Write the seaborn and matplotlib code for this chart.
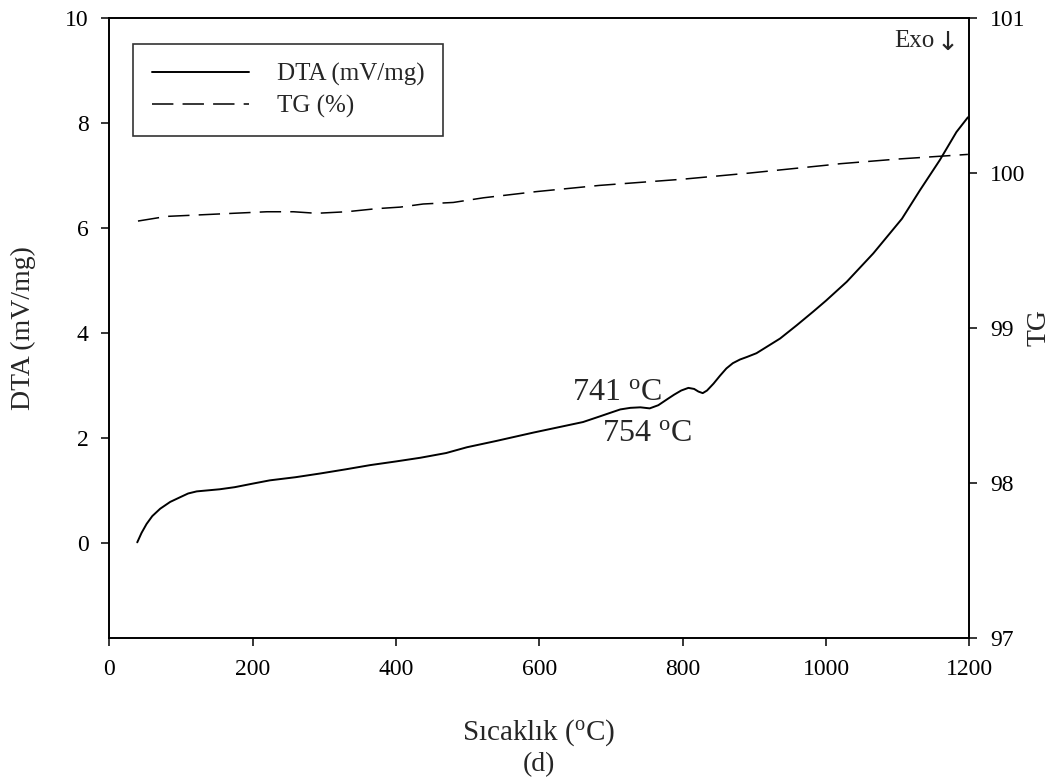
import matplotlib
matplotlib.use("Agg")
import matplotlib.pyplot as plt
import seaborn as sns

# DTA signal (mV/mg) versus temperature (°C)
dta_temp = [39, 45, 52, 60, 71, 85, 99, 110, 122, 138, 154, 175, 201, 224, 260,
            294, 330, 364, 400, 434, 470, 499, 540, 592, 630, 661, 685, 700, 713,
            727, 741, 754, 766, 778, 788, 798, 808, 816, 822, 828, 834, 843, 852,
            861, 870, 880, 890, 903, 936, 959, 982, 1000, 1029, 1066, 1106, 1131,
            1159, 1182, 1198]
dta_vals = [0.02, 0.20, 0.37, 0.52, 0.66, 0.79, 0.88, 0.95, 0.99, 1.01, 1.03, 1.07,
            1.14, 1.20, 1.26, 1.33, 1.41, 1.49, 1.56, 1.63, 1.72, 1.83, 1.95, 2.11,
            2.22, 2.31, 2.42, 2.49, 2.55, 2.58, 2.59, 2.57, 2.63, 2.74, 2.83, 2.91,
            2.96, 2.94, 2.89, 2.86, 2.91, 3.04, 3.19, 3.33, 3.43, 3.50, 3.55, 3.62,
            3.90, 4.15, 4.41, 4.62, 4.98, 5.52, 6.18, 6.72, 7.30, 7.83, 8.11]

# TG mass (%) versus temperature (°C)
tg_temp = [40, 80, 127, 173, 220, 257, 289, 331, 373, 406, 438, 480, 522, 559,
           596, 684, 800, 894, 1000, 1020, 1100, 1198]
tg_vals = [99.69, 99.72, 99.73, 99.74, 99.75, 99.75, 99.74, 99.75, 99.77, 99.78,
           99.80, 99.81, 99.84, 99.86, 99.88, 99.92, 99.96, 100.00, 100.05, 100.06,
           100.09, 100.12]

series_labels = ["DTA (mV/mg)", "TG (%)"]
x_ticks = [0, 200, 400, 600, 800, 1000, 1200]
dta_ticks = [0, 2, 4, 6, 8, 10]
tg_ticks = [97, 98, 99, 100, 101]

sns.set_theme(style="ticks")
plt.rcParams["font.family"] = ["Liberation Serif", "DejaVu Serif"]
plt.rcParams["mathtext.fontset"] = "custom"
plt.rcParams["mathtext.rm"] = "Liberation Serif"
plt.rcParams["mathtext.it"] = "Liberation Serif:italic"
plt.rcParams["axes.edgecolor"] = "black"
plt.rcParams["axes.linewidth"] = 1.2
plt.rcParams["xtick.color"] = "black"
plt.rcParams["ytick.color"] = "black"

fig = plt.figure(figsize=(10.55, 7.8), dpi=100)
ax = fig.add_axes([0.1036, 0.1821, 0.8152, 0.7948])
ax2 = ax.twinx()

sns.lineplot(x=dta_temp, y=dta_vals, ax=ax, color="black", linewidth=1.4,
             sort=False, estimator=None)
sns.lineplot(x=tg_temp, y=tg_vals, ax=ax2, color="black", linewidth=1.1,
             sort=False, estimator=None)
ax2.lines[0].set_linestyle((0, (14, 6)))

ax.set_xlim(0, 1200)
ax.set_ylim(-1.8, 10)
ax2.set_ylim(97, 101)
ax.set_xticks(x_ticks)
ax.set_yticks(dta_ticks)
ax2.set_yticks(tg_ticks)

for a in (ax, ax2):
    a.tick_params(direction="out", length=6, width=1.1, labelsize=17, pad=9)
    for s in a.spines.values():
        s.set_linewidth(1.2)
        s.set_color("black")
ax.tick_params(axis="y", right=False)
ax.tick_params(axis="x", top=False)

ax.set_xlabel("")
ax.set_ylabel("DTA (mV/mg)", fontsize=20)
ax.yaxis.set_label_coords(-0.085, 0.5)
ax2.set_ylabel("TG", fontsize=20)
ax2.yaxis.set_label_coords(1.066, 0.5)

fig.text(539 / 1055, 1 - 740 / 780, r"Sıcaklık ($^{\mathrm{o}}$C)", fontsize=21,
         ha="center", va="baseline")
fig.text(539 / 1055, 1 - 771 / 780, "(d)", fontsize=20, ha="center", va="baseline")

ax.text(645, 2.88, r"741 $^{\mathrm{o}}$C", fontsize=23, ha="left", va="center")
ax.text(687, 2.10, r"754 $^{\mathrm{o}}$C", fontsize=23, ha="left", va="center")
ax.text(0.960, 0.963, "Exo", transform=ax.transAxes, fontsize=18,
        ha="right", va="center")
ax.text(0.9615, 0.960, "\u2193", transform=ax.transAxes, fontsize=19,
        ha="left", va="center", family="DejaVu Sans")

leg = ax2.legend([ax.lines[0], ax2.lines[0]], series_labels,
                 loc="upper left", bbox_to_anchor=(0.0276, 0.958),
                 borderaxespad=0, fontsize=18, frameon=True, fancybox=False,
                 handlelength=3.9, handletextpad=1.1, labelspacing=0.35,
                 borderpad=0.75)
leg.get_frame().set_edgecolor("black")
leg.get_frame().set_linewidth(1.2)

fig.savefig("out.png", dpi=100)
